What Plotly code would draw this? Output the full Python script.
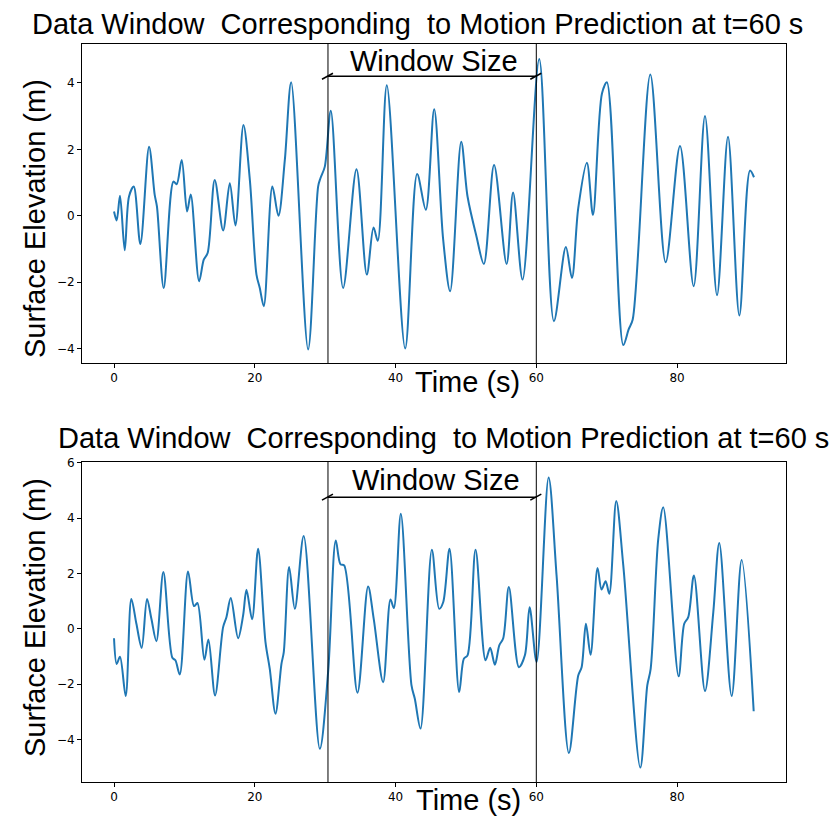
import plotly.graph_objects as go

# ---- data: surface elevation records (time in s, elevation in m) ----
t_top = [0, 0.38, 0.85, 1.52, 2.13, 2.8, 3.74, 4.98, 5.78, 6.1, 7.06, 8.44, 8.9, 9.62,
         10.38, 10.9, 12.09, 12.75, 13.3, 14.31, 15.5, 16.45, 17.25, 18.39, 19.3, 20.24,
         20.71, 21.28, 22.5, 23.36, 24.27, 25.17, 27.58, 29.0, 29.33, 29.95, 30.8, 32.55,
         34.45, 35.92, 36.87, 37.48, 38.76, 41.37, 43.07, 44.3, 45.49, 46.77, 47.76, 49.33,
         50.23, 51.5, 52.55, 54.0, 55.78, 56.7, 58.05, 60.42, 62.5, 64.2, 65.06, 65.96,
         67.19, 68.05, 69.33, 70.03, 72.36, 73.12, 73.7, 76.2, 78.38, 80.42, 82.36, 83.97,
         85.68, 87.24, 88.85, 90.36, 90.93]
eta_top = [0.13, -0.14, 0.6, -1.04, 0.58, 0.88, -0.85, 2.08, 0.63, 0.28, -2.17, 1.03, 0.95, 1.68,
           0.13, 0.64, -1.97, -1.32, -1.12, 1.08, -0.44, 0.98, -0.29, 2.73, 1.08, -1.77,
           -2.17, -2.72, 0.88, 0.0, 1.68, 4.02, -4.02, 0.88, 1.13, 1.48, 3.16, -2.17,
           1.4, -1.77, -0.35, -0.75, 3.93, -3.99, 1.26, 0.18, 3.21, -0.72, -2.27, 2.23,
           0.58, -0.62, -1.45, 1.53, -1.45, 0.7, -1.92, 4.72, -3.17, -0.94, -1.87, 0.23,
           1.6, 0.03, 3.68, 4.02, -3.89, -3.42, -3.12, 4.25, -1.4, 2.1, -2.12, 3.0,
           -2.39, 2.38, -3.0, 1.36, 1.16]

t_bot = [0, 0.38, 0.85, 1.66, 2.46, 3.18, 3.93, 4.69, 5.31, 6.02, 7.01, 8.29, 8.72, 9.34,
         10.52, 11.37, 11.85, 12.84, 13.41, 14.36, 15.5, 15.97, 16.59, 17.63, 18.34, 18.82,
         19.62, 20.47, 21.52, 22.13, 22.94, 23.79, 24.12, 24.88, 25.69, 26.95, 29.24, 30.42,
         31.51, 32.18, 32.7, 34.59, 36.1, 36.9, 38.24, 39.28, 39.76, 40.75, 42.27, 42.74,
         43.55, 45.16, 46.2, 46.77, 47.67, 49.04, 49.71, 50.23, 51.37, 52.79, 53.45, 54.12,
         54.74, 55.3, 56.1, 57.53, 58.38, 59.05, 60.04, 61.75, 62.88, 64.63, 65.96, 66.44,
         67.05, 67.71, 68.7, 69.27, 69.85, 70.37, 71.36, 72.36, 74.78, 75.77, 76.25, 77.33,
         78.04, 80.22, 81.02, 81.59, 82.4, 83.97, 85.15, 86.0, 87.76, 89.18, 90.89]
eta_bot = [-0.34, -1.27, -1.01, -2.43, 1.08, 0.18, -0.69, 1.08, 0.36, -0.45, 2.05, -1.05, -1.14, -1.65,
           2.07, 0.82, 0.93, -1.12, -0.39, -2.41, 0.06, 0.42, 1.11, -0.34, 0.48, 1.41,
           0.34, 2.89, -0.48, -1.45, -3.07, -1.27, -0.84, 2.23, 0.72, 3.35, -4.34, -1.57,
           3.19, 2.33, 2.29, -2.31, 1.53, 0.36, -1.93, 1.06, 0.75, 4.16, -2.05, -2.53,
           -3.61, 2.86, 0.72, 0.96, 2.89, -2.29, -1.08, -0.96, 2.86, -1.14, -0.69, -1.3,
           -0.6, -0.34, 1.51, -1.39, -0.96, 0.78, -1.2, 5.47, 1.93, -4.49, -1.69, -1.39,
           0.18, -0.94, 2.2, 1.42, 1.72, 1.27, 4.62, 2.29, -5.02, -2.05, -1.45, 3.25,
           4.39, -1.72, 0.18, 0.42, 1.93, -2.25, 0.6, 3.1, -2.43, 2.49, -2.98]

window_start = 30.4
window_end = 60.0
arrow_level = [4.2, 4.76]          # height of the "Window Size" arrow in each panel
x_ticks = [0, 20, 40, 60, 80]
y_ticks_top = [-4, -2, 0, 2, 4]
y_ticks_bot = [-4, -2, 0, 2, 4, 6]

title_text = "Data Window\u00a0 Corresponding\u00a0 to Motion Prediction at t=60 s"

# ---- layout geometry (pixels) ----
W, H = 836, 816
ML, MR, MT, MB = 82, 50, 44, 34
PW, PH = W - ML - MR, H - MT - MB


def px(sx):
    return (sx - ML) / PW


def py(sy):
    return (H - MB - sy) / PH


LINE_BLUE = "#1f77b4"
SANS = "Liberation Sans, Arial, sans-serif"
TICKFONT = dict(family="DejaVu Sans, sans-serif", size=12, color="black")

fig = go.Figure()
fig.add_trace(go.Scatter(x=t_top, y=eta_top, mode="lines", xaxis="x", yaxis="y",
                         line=dict(color=LINE_BLUE, width=2, shape="spline", smoothing=0.9),
                         showlegend=False))
fig.add_trace(go.Scatter(x=t_bot, y=eta_bot, mode="lines", xaxis="x2", yaxis="y2",
                         line=dict(color=LINE_BLUE, width=2, shape="spline", smoothing=0.9),
                         showlegend=False))

axis_common = dict(showgrid=False, zeroline=False, showline=True, linecolor="black",
                   linewidth=1, mirror=True, ticks="outside", ticklen=4, tickwidth=1,
                   tickcolor="black", tickfont=TICKFONT)

fig.update_layout(
    width=W, height=H,
    margin=dict(l=ML, r=MR, t=MT, b=MB),
    plot_bgcolor="white", paper_bgcolor="white",
    xaxis=dict(axis_common, domain=[0, 1], anchor="y", range=[-4.55, 95.48], tickvals=x_ticks),
    yaxis=dict(axis_common, domain=[py(363), 1], anchor="x", range=[-4.43, 5.17],
               tickvals=y_ticks_top),
    xaxis2=dict(axis_common, domain=[0, 1], anchor="y2", range=[-4.55, 95.48], tickvals=x_ticks),
    yaxis2=dict(axis_common, domain=[0, py(462)], anchor="x2", range=[-5.54, 6.03],
                tickvals=y_ticks_bot),
)

shapes = []
for xa, ya, lvl in (("x", "y", arrow_level[0]), ("x2", "y2", arrow_level[1])):
    # window boundaries
    for xv in (window_start, window_end):
        shapes.append(dict(type="line", xref=xa, yref=ya + " domain", x0=xv, x1=xv, y0=0, y1=1,
                           line=dict(color="black", width=1)))
    # double-headed arrow showing the window span
    shapes.append(dict(type="line", xref=xa, yref=ya, x0=window_start, x1=window_end,
                       y0=lvl, y1=lvl, line=dict(color="black", width=1.5)))
    for xv in (window_start, window_end):
        shapes.append(dict(type="line", xref=xa, yref=ya, xsizemode="pixel", ysizemode="pixel",
                           xanchor=xv, yanchor=lvl, x0=-6, x1=5, y0=-3, y1=3,
                           line=dict(color="black", width=1.5)))
fig.update_layout(shapes=shapes)

ann = []
big = dict(family=SANS, size=29, color="black")
for sx, sy in ((417, 24), (443, 438)):
    ann.append(dict(text=title_text, xref="paper", yref="paper", x=px(sx), y=py(sy),
                    xanchor="center", yanchor="middle", showarrow=False, font=big))
for sx, sy in ((434, 61), (436, 480)):
    ann.append(dict(text="Window Size", xref="paper", yref="paper", x=px(sx), y=py(sy),
                    xanchor="center", yanchor="middle", showarrow=False, font=big))
for sx, sy in ((467, 382), (468, 800)):
    ann.append(dict(text="Time (s)", xref="paper", yref="paper", x=px(sx), y=py(sy),
                    xanchor="center", yanchor="middle", showarrow=False, font=big))
for sx, sy in ((35, 219), (35, 618)):
    ann.append(dict(text="Surface Elevation (m)", xref="paper", yref="paper", x=px(sx), y=py(sy),
                    xanchor="center", yanchor="middle", showarrow=False, font=big,
                    textangle=-90))
fig.update_layout(annotations=ann)

fig.write_html("out.html")
